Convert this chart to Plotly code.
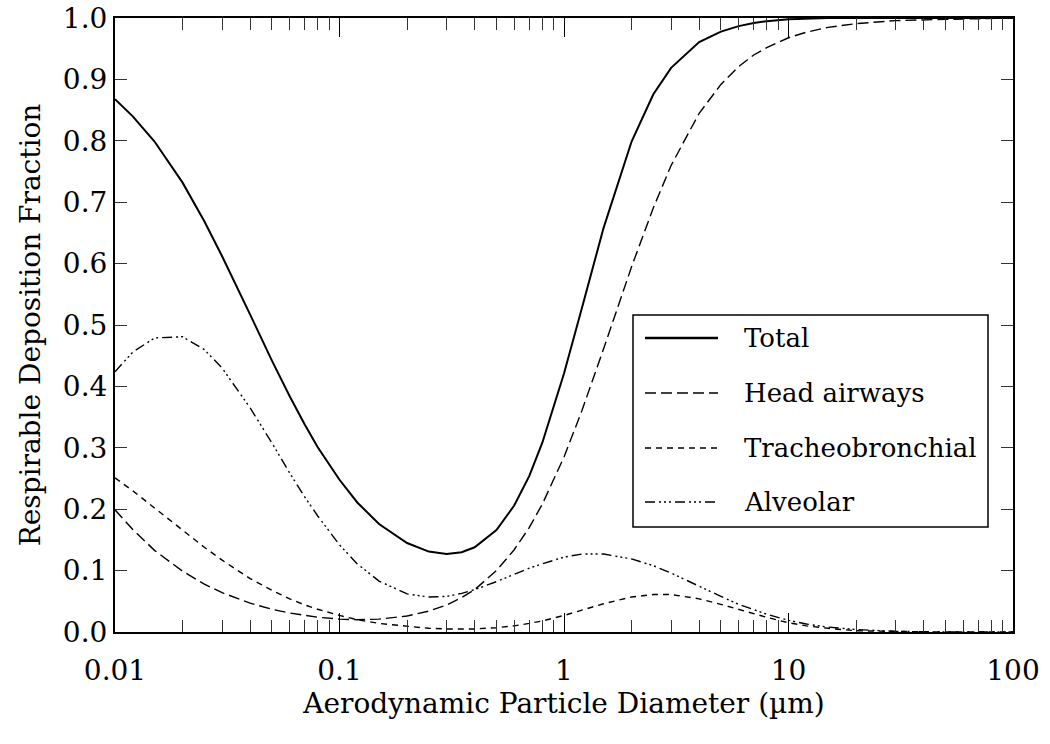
import plotly.graph_objects as go

# Aerodynamic particle diameter (um)
diameter = [0.01, 0.012, 0.015, 0.02, 0.025, 0.03, 0.04, 0.05, 0.06, 0.07, 0.08, 0.1, 0.12, 0.15,
            0.2, 0.25, 0.3, 0.35, 0.4, 0.5, 0.6, 0.7, 0.8, 1, 1.2, 1.5, 2, 2.5, 3, 4, 5, 6, 7, 8,
            10, 12, 15, 20, 30, 50, 100]

total = [0.868, 0.840, 0.799, 0.732, 0.669, 0.612, 0.517, 0.442, 0.384, 0.338, 0.301, 0.248, 0.211,
         0.176, 0.145, 0.131, 0.127, 0.130, 0.138, 0.166, 0.206, 0.254, 0.308, 0.421, 0.527, 0.658,
         0.799, 0.876, 0.919, 0.961, 0.978, 0.987, 0.992, 0.995, 0.998, 0.999, 1.0, 1.0, 1.0, 1.0, 1.0]

head_airways = [0.199, 0.167, 0.133, 0.099, 0.078, 0.064, 0.047, 0.037, 0.031, 0.027, 0.024, 0.021,
                0.020, 0.021, 0.026, 0.034, 0.044, 0.056, 0.069, 0.100, 0.134, 0.170, 0.208, 0.285,
                0.360, 0.461, 0.595, 0.691, 0.760, 0.845, 0.892, 0.921, 0.940, 0.952, 0.968, 0.977,
                0.985, 0.991, 0.996, 0.998, 1.0]

tracheobronchial = [0.251, 0.230, 0.202, 0.166, 0.138, 0.117, 0.087, 0.068, 0.054, 0.044, 0.037,
                    0.027, 0.020, 0.014, 0.009, 0.006, 0.005, 0.005, 0.005, 0.007, 0.010, 0.014,
                    0.018, 0.027, 0.035, 0.046, 0.057, 0.061, 0.061, 0.054, 0.045, 0.037, 0.029,
                    0.024, 0.015, 0.010, 0.006, 0.002, 0.001, 0.0, 0.0]

alveolar = [0.424, 0.456, 0.479, 0.481, 0.460, 0.430, 0.365, 0.308, 0.259, 0.220, 0.189, 0.142,
            0.111, 0.083, 0.062, 0.057, 0.058, 0.063, 0.069, 0.082, 0.094, 0.104, 0.111, 0.122,
            0.127, 0.127, 0.119, 0.108, 0.096, 0.074, 0.058, 0.045, 0.036, 0.029, 0.019, 0.013,
            0.008, 0.004, 0.001, 0.0, 0.0]

x_tickvals = [0.01, 0.1, 1, 10, 100]
x_ticktext = ["0.01", "0.1", "1", "10", "100"]
x_minorvals = [m * 10 ** e for e in (-2, -1, 0, 1) for m in range(2, 10)]
y_tickvals = [0.0, 0.1, 0.2, 0.3, 0.4, 0.5, 0.6, 0.7, 0.8, 0.9, 1.0]
y_ticktext = ["0.0", "0.1", "0.2", "0.3", "0.4", "0.5", "0.6", "0.7", "0.8", "0.9", "1.0"]

FONT = "DejaVu Serif"
FS = 28
FS_LEG = 26

series = [
    ("Total", total, dict(color="black", width=2, dash="solid")),
    ("Head airways", head_airways, dict(color="black", width=1.4, dash="11px,5px")),
    ("Tracheobronchial", tracheobronchial, dict(color="black", width=1.4, dash="6px,5px")),
    ("Alveolar", alveolar, dict(color="black", width=1.4, dash="10px,4px,2px,3px,2px,3px,2px,4px")),
]

fig = go.Figure()
for name, vals, line in series:
    fig.add_trace(go.Scatter(x=diameter, y=vals, mode="lines", name=name, line=line,
                             showlegend=False))

# legend drawn in paper coordinates (pixel layout converted)
L, R, T, B = 115, 1013, 18, 632
def px(p):
    return (p - L) / (R - L)
def py(p):
    return (B - p) / (B - T)

shapes = [dict(type="rect", xref="paper", yref="paper", x0=px(633), x1=px(988), y0=py(527), y1=py(315),
               line=dict(color="black", width=1.5), fillcolor="white", layer="above")]
annotations = []
row_y = [338, 393, 448, 502]
for (name, vals, line), yy in zip(series, row_y):
    shapes.append(dict(type="line", xref="paper", yref="paper", x0=px(645), x1=px(718),
                       y0=py(yy), y1=py(yy), layer="above",
                       line=dict(color="black", width=line["width"] + 0.4 if name == "Total" else line["width"],
                                 dash=line["dash"])))
    annotations.append(dict(text=name, xref="paper", yref="paper", x=px(742), y=py(yy),
                            xanchor="left", yanchor="middle", showarrow=False,
                            font=dict(family=FONT, size=FS_LEG, color="black")))

fig.update_layout(
    width=1050, height=744,
    margin=dict(l=115, r=37, t=18, b=112),
    paper_bgcolor="white", plot_bgcolor="white",
    font=dict(family=FONT, size=FS, color="black"),
    showlegend=False,
    shapes=shapes,
    annotations=annotations,
    xaxis=dict(
        type="log", range=[-2, 2], automargin=False,
        tickmode="array", tickvals=x_tickvals, ticktext=x_ticktext,
        ticks="inside", ticklen=19, tickwidth=1, tickcolor="black",
        minor=dict(tickmode="array", tickvals=x_minorvals, ticks="inside", ticklen=12,
                   tickwidth=1, tickcolor="#333", showgrid=False),
        showline=True, linecolor="black", linewidth=2, mirror="ticks",
        showgrid=False, zeroline=False, ticklabeloverflow="allow", ticklabelstandoff=12,
        title=dict(text="Aerodynamic Particle Diameter (µm)", font=dict(family=FONT, size=FS), standoff=0),
        tickfont=dict(family=FONT, size=FS),
    ),
    yaxis=dict(
        range=[0, 1.0002], automargin=False,
        tickmode="array", tickvals=y_tickvals, ticktext=y_ticktext,
        ticks="inside", ticklen=12, tickwidth=1, tickcolor="#333",
        showline=True, linecolor="black", linewidth=2, mirror="ticks",
        showgrid=False, zeroline=False, ticklabeloverflow="allow",
        title=dict(text="Respirable Deposition Fraction", font=dict(family=FONT, size=FS), standoff=14),
        tickfont=dict(family=FONT, size=FS),
    ),
)

fig.write_html("out.html")
